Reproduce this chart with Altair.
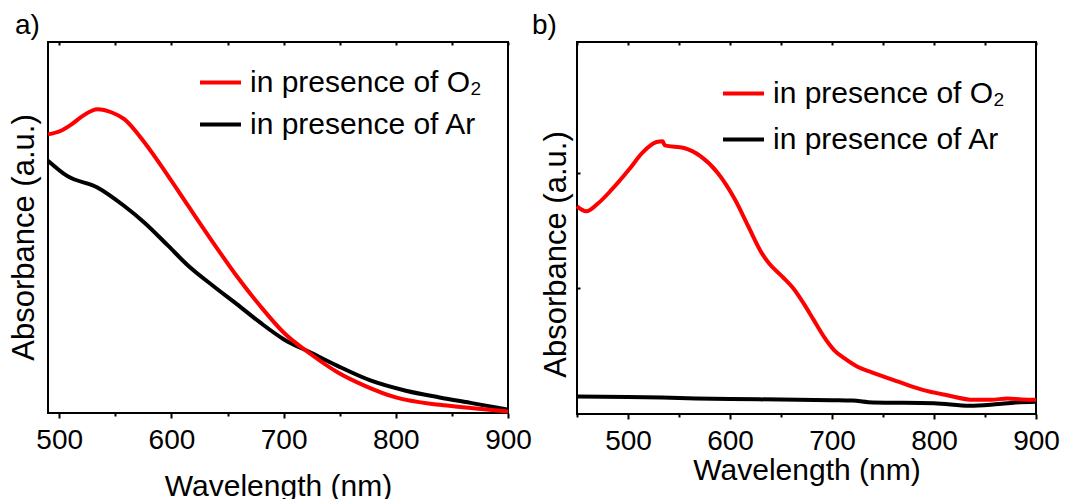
import altair as alt
import pandas as pd

FONT = "Liberation Sans"
SERIES = ["in presence of O₂", "in presence of Ar"]
COLORS = ["#ff0000", "#000000"]

# Panel a
a_wl_o2 = [490, 501, 511, 521, 534, 547, 558, 576, 597, 615, 637, 658, 679, 700, 724, 748, 772, 800, 839, 869, 900]
a_o2 = [0.751, 0.760, 0.778, 0.801, 0.819, 0.810, 0.792, 0.729, 0.639, 0.558, 0.460, 0.370, 0.289, 0.217, 0.159,
        0.110, 0.074, 0.042, 0.022, 0.013, 0.004]
a_wl_ar = [490, 507, 534, 558, 576, 597, 615, 637, 658, 679, 700, 724, 748, 778, 809, 839, 869, 900]
a_ar = [0.680, 0.639, 0.608, 0.558, 0.513, 0.451, 0.397, 0.343, 0.294, 0.244, 0.199, 0.163, 0.127, 0.087, 0.060,
        0.042, 0.026, 0.009]

# Panel b
b_wl_o2 = [450, 459, 471, 484, 501, 514, 528, 534, 536, 555, 571, 588, 605, 618, 631, 638, 651, 662, 672, 682,
           692, 702, 712, 725, 739, 765, 789, 812, 839, 856, 872, 886, 900]
b_o2 = [0.558, 0.545, 0.567, 0.603, 0.657, 0.702, 0.731, 0.733, 0.722, 0.715, 0.693, 0.648, 0.576, 0.504, 0.433,
        0.406, 0.370, 0.338, 0.298, 0.253, 0.208, 0.172, 0.150, 0.127, 0.112, 0.087, 0.065, 0.051, 0.038, 0.038,
        0.042, 0.039, 0.038]
b_wl_ar = [450, 500, 550, 600, 650, 700, 720, 740, 800, 835, 860, 880, 900]
b_ar = [0.047, 0.046, 0.043, 0.040, 0.039, 0.037, 0.036, 0.031, 0.029, 0.022, 0.026, 0.031, 0.033]

a_ticks = [500, 550, 600, 650, 700, 750, 800, 850, 900]
b_ticks = [450, 500, 550, 600, 650, 700, 750, 800, 850, 900]
b_yticks = [0.338, 0.648]


def frame(wl1, v1, wl2, v2):
    d1 = pd.DataFrame({"wl": wl1, "a": v1, "series": SERIES[0], "k": 1})
    d2 = pd.DataFrame({"wl": wl2, "a": v2, "series": SERIES[1], "k": 0})
    return pd.concat([d2, d1], ignore_index=True)


def panel(df, domain, ticks, w, h, lx, ly, row_pad, label, title_dx, xt_pad, yt_y, yt_pad, sw, yticks):
    xscale = alt.Scale(domain=domain, nice=False, zero=False)
    yscale = alt.Scale(domain=[0, 1], nice=False)
    if yticks:
        yaxis = alt.Axis(labels=False, ticks=True, values=yticks, tickSize=3, offset=-3,
                         title="Absorbance (a.u.)", titleFontSize=31,
                         titlePadding=yt_pad - 3, titleY=yt_y)
    else:
        yaxis = alt.Axis(labels=False, ticks=False, title="Absorbance (a.u.)",
                         titleFontSize=31, titlePadding=yt_pad, titleY=yt_y)
    lines = alt.Chart(df).mark_line(strokeWidth=sw, interpolate="monotone").encode(
        x=alt.X("wl:Q", scale=xscale,
                axis=alt.Axis(values=ticks,
                              labelExpr="datum.value % 100 === 0 ? datum.label : ''",
                              tickSize={"condition": {"test": "datum.value % 100 === 0", "value": 5}, "value": 3},
                              labelPadding=8, labelFlush=False, labelOverlap=False,
                              title="Wavelength (nm)", titlePadding=xt_pad)),
        y=alt.Y("a:Q", scale=yscale, axis=yaxis),
        color=alt.Color("series:N", scale=alt.Scale(domain=SERIES, range=COLORS),
                        legend=alt.Legend(orient="none", legendX=lx, legendY=ly, title=None,
                                          symbolType="stroke", symbolSize=1681, symbolStrokeWidth=4,
                                          labelFontSize=30, labelFont=FONT, labelColor="black",
                                          labelLimit=600,
                                          labelOffset=7, rowPadding=row_pad, padding=0)),
        order=alt.Order("k:Q"),
    )
    top = alt.Chart(df).mark_line(opacity=0).encode(
        x=alt.X("wl:Q", scale=xscale,
                axis=alt.Axis(orient="top", values=ticks, labels=False, tickSize=3, offset=-3,
                              title=None)),
        y=alt.Y("a:Q", scale=yscale, axis=None),
        detail="series:N",
    )
    return alt.layer(lines, top).resolve_axis(x="independent", y="independent").properties(
        width=w, height=h,
        title=alt.TitleParams(text=label, anchor="start", frame="group", dx=title_dx, offset=-21,
                              baseline="alphabetic", fontSize=28, font=FONT, fontWeight="normal",
                              color="black"),
    )


pa = panel(frame(a_wl_o2, a_o2, a_wl_ar, a_ar), [490, 900], a_ticks, 460, 371,
           150, 18, 4, "a)", -33, 17, 195, 8, 4, None)
pb = panel(frame(b_wl_o2, b_o2, b_wl_ar, b_ar), [450, 900], b_ticks, 459, 372,
           144, 29, 8, "b)", -45, 0, 212, 7, 4, b_yticks)

chart = alt.hconcat(pa, pb, spacing=69, bounds="flush").resolve_scale(
    color="independent", x="independent", y="independent"
).resolve_legend(color="independent").properties(
    padding={"left": 7, "top": 11, "right": 0, "bottom": 0}
).configure_view(stroke="black", strokeWidth=2).configure_axis(
    labelFont=FONT, titleFont=FONT, labelFontSize=28, titleFontSize=30,
    labelColor="black", titleColor="black", titleFontWeight="normal",
    domain=False, grid=False, tickColor="black", tickWidth=2,
)

chart.save("out.html", embed_options={"renderer": "svg", "actions": False})
